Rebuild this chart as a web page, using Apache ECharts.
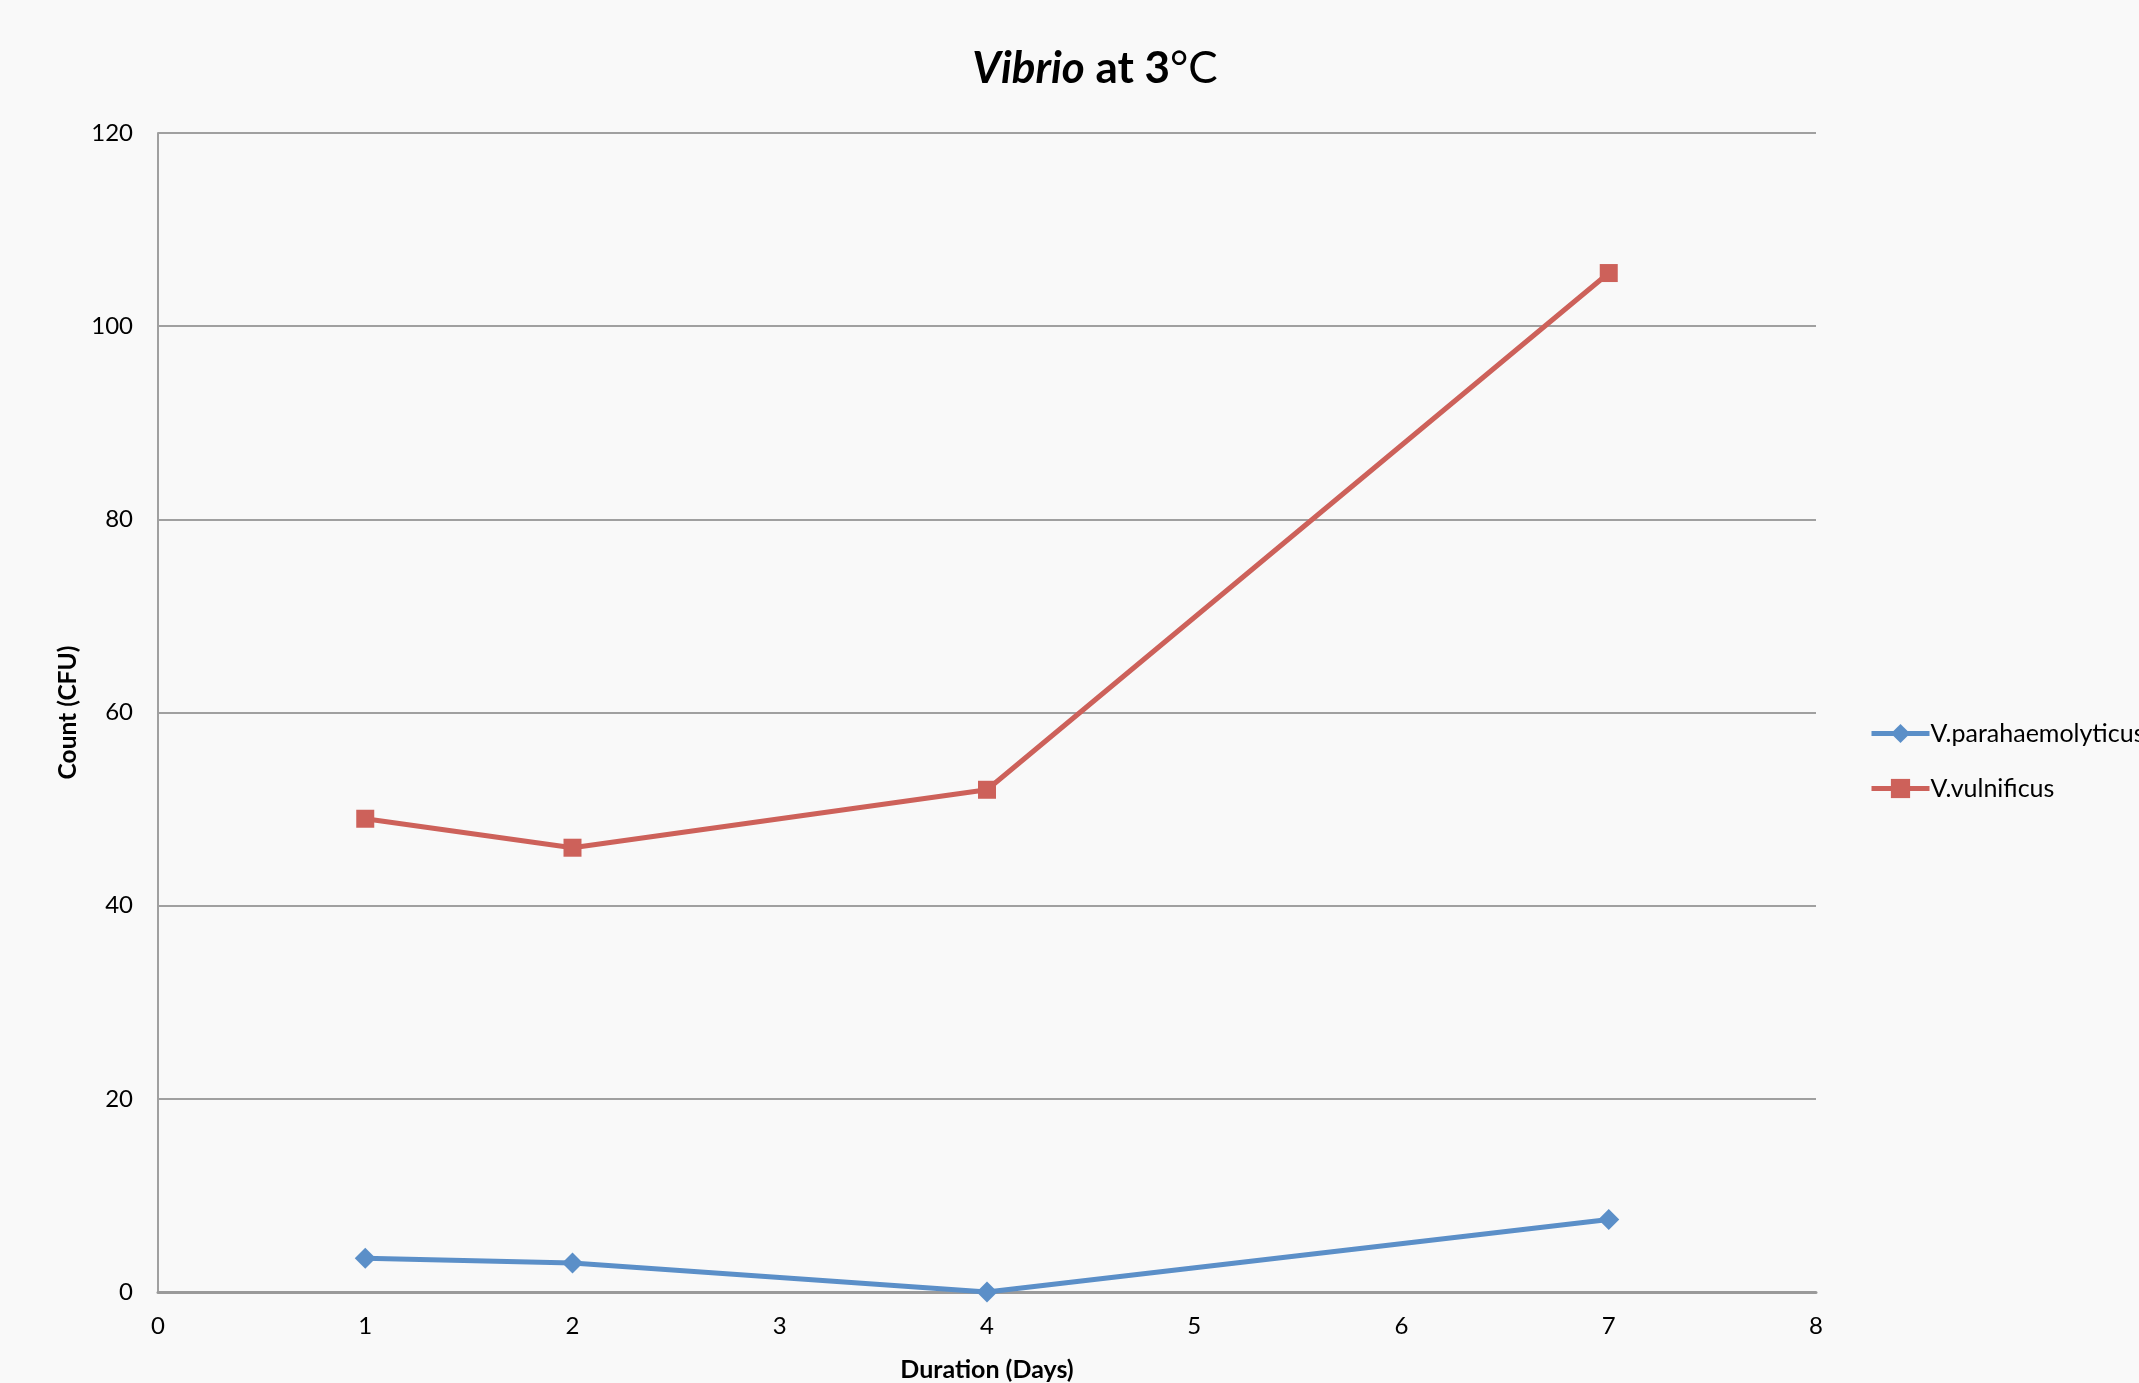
<!DOCTYPE html>
<html>
<head>
<meta charset="utf-8">
<script src="https://cdn.jsdelivr.net/npm/echarts@6/dist/echarts.min.js"></script>
<style>
html,body{margin:0;padding:0;background:#f9f9f9;}
#chart{width:2139px;height:1383px;}
</style>
</head>
<body>
<div id="chart"></div>
<script>
const days = [1, 2, 4, 7];
const vParahaemolyticus = [3.5, 3, 0, 7.5];
const vVulnificus = [49, 46, 52, 105.5];
const seriesNames = ['V.parahaemolyticus', 'V.vulnificus'];
const yTicks = { min: 0, max: 120, interval: 20 };
const xTicks = { min: 0, max: 8, interval: 1 };

const FONT = 'Lato, "Open Sans", sans-serif';
const chart = echarts.init(document.getElementById('chart'));
chart.setOption({
  backgroundColor: '#f9f9f9',
  animation: false,
  title: {
    text: '{i|Vibrio}{b| at 3}{n|°C}',
    left: 1090, top: 42, textAlign: 'center',
    textStyle: {
      rich: {
        i: { fontFamily: FONT, fontSize: 44, fontWeight: 'bold', fontStyle: 'italic', color: '#000' },
        b: { fontFamily: FONT, fontSize: 44, fontWeight: 'bold', color: '#000' },
        n: { fontFamily: FONT, fontSize: 44, fontWeight: 'normal', color: '#000' }
      }
    }
  },
  legend: {
    orient: 'vertical',
    left: 1869, top: 721,
    padding: 0,
    itemWidth: 58, itemHeight: 24, itemGap: 30,
    lineStyle: { width: 5 },
    textStyle: { fontFamily: FONT, fontSize: 25, color: '#000', padding: [0, 0, 0, -4], width: 150, overflow: 'none' },
    data: seriesNames
  },
  grid: { left: 158, right: 323, top: 133, bottom: 91, containLabel: false, outerBoundsMode: 'none' },
  xAxis: {
    type: 'value', min: xTicks.min, max: xTicks.max, interval: xTicks.interval,
    name: 'Duration (Days)', nameLocation: 'middle', nameGap: 65,
    nameTextStyle: { fontFamily: FONT, fontSize: 25, fontWeight: 'bold', color: '#000' },
    axisLine: { show: true, lineStyle: { color: '#9a9a9a', width: 3 } },
    axisTick: { show: false },
    axisLabel: { fontFamily: FONT, fontSize: 24, color: '#000', margin: 22 },
    splitLine: { show: false }
  },
  yAxis: {
    type: 'value', min: yTicks.min, max: yTicks.max, interval: yTicks.interval,
    name: 'Count (CFU)', nameLocation: 'middle', nameGap: 77,
    nameTextStyle: { fontFamily: FONT, fontSize: 24.5, fontWeight: 'bold', color: '#000' },
    axisLine: { show: true, lineStyle: { color: '#a0a0a0', width: 2 } },
    axisTick: { show: false },
    axisLabel: { fontFamily: FONT, fontSize: 24, color: '#000', margin: 25 },
    splitLine: { show: true, lineStyle: { color: '#a0a0a0', width: 2 } }
  },
  series: [
    {
      name: seriesNames[0], type: 'line',
      data: days.map((d, i) => [d, vParahaemolyticus[i]]),
      symbol: 'diamond', symbolSize: [21, 21],
      itemStyle: { color: '#5b8fc8' },
      lineStyle: { color: '#5b8fc8', width: 5 },
      z: 3
    },
    {
      name: seriesNames[1], type: 'line',
      data: days.map((d, i) => [d, vVulnificus[i]]),
      symbol: 'rect', symbolSize: 18,
      itemStyle: { color: '#cd615a' },
      lineStyle: { color: '#cd615a', width: 5 },
      z: 3
    }
  ]
});
</script>
</body>
</html>
